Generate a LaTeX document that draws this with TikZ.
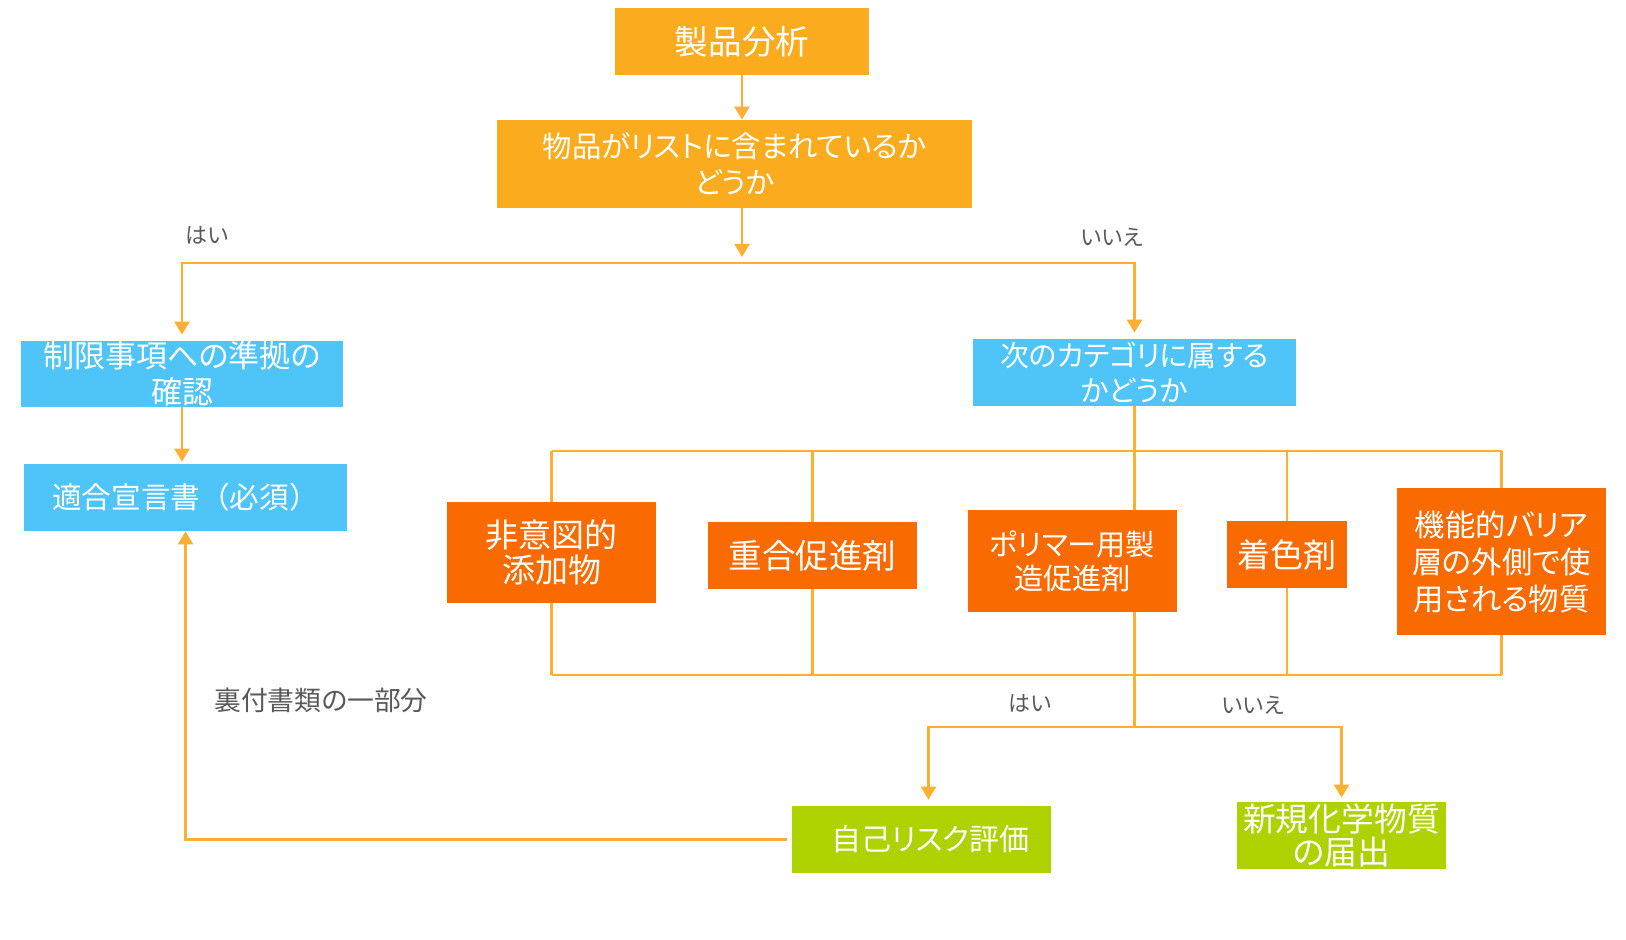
\documentclass[tikz,border=0pt]{standalone}
\usepackage{fontspec}
\setmainfont{Noto Sans CJK JP}[RawFeature=+palt]
\newfontfamily\jpwide{Noto Sans CJK JP}
\usepackage{tikz}
\usetikzlibrary{arrows.meta}

\definecolor{amber}{HTML}{FBAB1E}
\definecolor{sky}{HTML}{4FC4F8}
\definecolor{tangerine}{HTML}{F96A00}
\definecolor{lime}{HTML}{ADD200}
\definecolor{wirecol}{HTML}{FBB034}
\definecolor{labelgray}{HTML}{595959}

\newcommand{\jpsize}[2]{\fontsize{#1}{#2}\selectfont}

\begin{document}
\begin{tikzpicture}[
    x=0.5pt, y=-0.5pt,
    flowbox/.style={rectangle, inner sep=0pt, align=center, text=white},
    mainbox/.style={flowbox, fill=amber},
    askbox/.style={flowbox, fill=sky},
    catbox/.style={flowbox, fill=tangerine, minimum width=104.5pt},
    endbox/.style={flowbox, fill=lime},
    wire/.style={draw=wirecol, line width=1.2pt},
    arr/.style={wire, -{Triangle[length=6.5pt, width=7.5pt]}},
    answer/.style={text=labelgray, font=\jpsize{11}{13}}
  ]

  \useasboundingbox (0,0) rectangle (1626,939);

  \node[mainbox, minimum width=127pt, minimum height=33.5pt, font=\jpsize{16.8}{19}] (prod) at (742,41.5) {製品分析};
  \node[mainbox, minimum width=237.5pt, minimum height=44pt, font=\jpsize{14.7}{18}] (list) at (734.5,164) {物品がリストに含まれているか\\どうか};

  \node[askbox, minimum width=161pt, minimum height=33pt, font=\jpsize{15.5}{18}] (chk) at (182,374) {制限事項への準拠の\\確認};
  \node[askbox, minimum width=161.5pt, minimum height=33.5pt, font=\jpwide\jpsize{14.8}{17}] (decl) at (185.5,497.5) {適合宣言書（必須）};
  \node[askbox, minimum width=161.5pt, minimum height=33.5pt, font=\jpsize{14.4}{17.5}] (nxt) at (1134.5,372.5) {次のカテゴリに属する\\かどうか};

  \node[catbox, minimum height=50.5pt, font=\jpsize{16.5}{17.5}] (cat1) at (551.5,552.5) {非意図的\\添加物};
  \node[catbox, minimum height=33.5pt, font=\jpsize{16.8}{18}] (cat2) at (812.5,555.5) {重合促進剤};
  \node[catbox, minimum height=51pt, font=\jpsize{14.6}{17}] (cat3) at (1072.5,561) {ポリマー用製\\造促進剤};
  \node[catbox, minimum width=60pt, minimum height=33.5pt, font=\jpsize{16.5}{18}] (cat4) at (1287,554.5) {着色剤};
  \node[catbox, minimum height=73.5pt, font=\jpsize{15.2}{18.5}] (cat5) at (1501.5,561.5) {機能的バリア\\層の外側で使\\用される物質};

  \node[endbox, minimum width=129.5pt, minimum height=33.5pt, font=\jpsize{15}{18}] (risk) at (921.5,839.5) {\hspace{9pt}自己リスク評価};
  \node[endbox, minimum width=104.5pt, minimum height=33.5pt, font=\jpsize{16.4}{14.5}] (notify) at (1341.5,835.5) {新規化学物質\\の届出};

  \node[answer] (yes1) at (207,235) {はい};
  \node[answer] (no1) at (1112,237) {いいえ};
  \node[answer] (yes2) at (1030,703) {はい};
  \node[answer] (no2) at (1253,705) {いいえ};
  \node[answer, font=\jpsize{13.4}{15}] (docpart) at (321,700) {裏付書類の一部分};

  \coordinate (fork) at (742,263);
  \coordinate (topbus) at (0,451);
  \coordinate (botbus) at (0,675);
  \coordinate (lowfork) at (1134.5,727);

  % main question
  \draw[arr] (prod) -- (prod.south |- list.north);
  \draw[arr] (list.south -| fork) -- ([yshift=3pt]fork);
  \draw[arr, shorten >=3pt] (fork) -| (chk.north);
  \draw[arr, shorten >=3pt] (fork) -| (nxt.north);
  \draw[arr, shorten >=1pt] (chk.south) -- (chk.south |- decl.north);

  % categories
  \draw[wire] (nxt.south) -- (nxt.south |- cat3.north);
  \draw[wire] (nxt.south |- cat3.south) -- (lowfork);
  \draw[wire] (cat1.north |- topbus) -- (cat5.north |- topbus);
  \draw[wire] (cat1.south |- botbus) -- (cat5.south |- botbus);
  \foreach \c in {cat1,cat2,cat4,cat5} {
    \draw[wire] (\c.north |- topbus) -- (\c.north);
    \draw[wire] (\c.south) -- (\c.south |- botbus);
  }

  % results
  \draw[arr, shorten >=3pt] (lowfork) -| ([xshift=3.5pt]risk.north);
  \draw[arr, shorten >=2pt] (lowfork) -| (notify.north);
  \draw[arr, shorten <=2.5pt] (risk.west) -| (decl.south);

\end{tikzpicture}
\end{document}
